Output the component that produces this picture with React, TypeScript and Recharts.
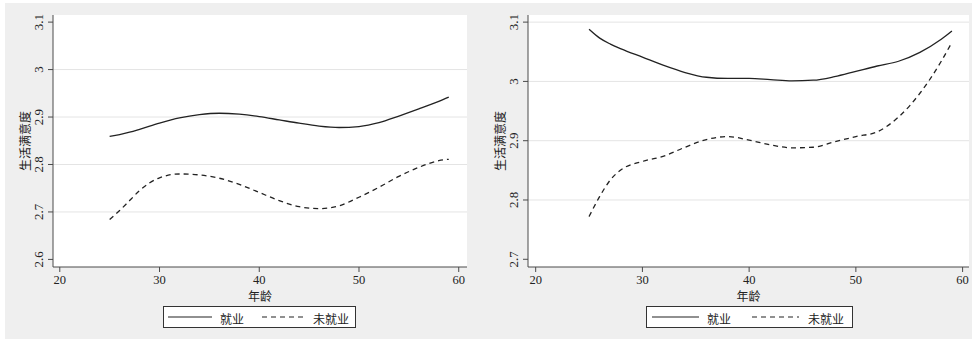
import React from 'react';
import { LineChart, Line, XAxis, YAxis, CartesianGrid, Legend } from 'recharts';

const ages = [25, 26, 27, 28, 30, 32, 34, 36, 38, 40, 42, 44, 46, 48, 50, 52, 54, 56, 58, 59];

const leftEmployed = [2.859, 2.863, 2.868, 2.874, 2.887, 2.898, 2.905, 2.908, 2.906, 2.901, 2.894, 2.887, 2.881, 2.878, 2.880, 2.888, 2.902, 2.917, 2.933, 2.942];
const leftUnemployed = [2.684, 2.703, 2.724, 2.745, 2.772, 2.780, 2.778, 2.771, 2.758, 2.741, 2.724, 2.711, 2.707, 2.713, 2.731, 2.752, 2.775, 2.794, 2.808, 2.811];

const rightEmployed = [3.088, 3.073, 3.063, 3.055, 3.041, 3.027, 3.015, 3.007, 3.005, 3.005, 3.003, 3.001, 3.002, 3.008, 3.017, 3.026, 3.034, 3.049, 3.071, 3.085];
const rightUnemployed = [2.772, 2.806, 2.834, 2.851, 2.865, 2.874, 2.889, 2.902, 2.907, 2.901, 2.893, 2.888, 2.889, 2.898, 2.907, 2.915, 2.940, 2.980, 3.034, 3.066];

const xTicks = [20, 30, 40, 50, 60];
const leftYTicks = [2.6, 2.7, 2.8, 2.9, 3.0, 3.1];
const rightYTicks = [2.7, 2.8, 2.9, 3.0, 3.1];
const leftGrid = [2.7, 2.8, 2.9, 3.0];
const rightGrid = [2.8, 2.9, 3.0, 3.1];

const seriesNames = ['就业', '未就业'];
const xTitle = '年龄';
const yTitle = '生活满意度';

const SERIF = '"Liberation Serif", "Times New Roman", serif';
const CJK = '"Noto Sans CJK SC", sans-serif';
const AXIS = '#4a4a4a';
const INK = '#222';

const leftData = ages.map((a, i) => ({ age: a, e: leftEmployed[i], u: leftUnemployed[i] }));
const rightData = ages.map((a, i) => ({ age: a, e: rightEmployed[i], u: rightUnemployed[i] }));

const fmt = (v: number) => String(Math.round(v * 10) / 10);

const YTick = (props: any) => {
  const { x, y, payload } = props;
  return (
    <text x={0} y={0} transform={`translate(${x - 3},${y}) rotate(-90)`} textAnchor="middle" fontSize={13} fontFamily={SERIF} fill={INK}>
      {fmt(payload.value)}
    </text>
  );
};

const XTitle = (props: any) => {
  const vb = props.viewBox;
  return (
    <text x={vb.x + vb.width / 2} y={vb.y + 34} textAnchor="middle" fontSize={12} fontFamily={CJK} fill={INK}>
      {xTitle}
    </text>
  );
};

const YTitle = (props: any) => {
  const vb = props.viewBox;
  const ax = vb.x + vb.width;
  const cy = vb.y + vb.height / 2;
  return (
    <text x={0} y={0} transform={`translate(${ax - 23},${cy}) rotate(-90)`} textAnchor="middle" fontSize={12} fontFamily={CJK} fill={INK}>
      {yTitle}
    </text>
  );
};

const makeLegend = (w: number, h: number, s: number[], t1: number, d: number[], t2: number) => () => (
  <svg width={w} height={h} style={{ display: 'block' }}>
    <rect x={0.5} y={0.5} width={w - 1} height={h - 1} fill="#fff" stroke="#333" strokeWidth={1} />
    <line x1={s[0]} x2={s[1]} y1={11} y2={11} stroke={INK} strokeWidth={1.2} />
    <text x={t1} y={17.5} fontSize={12} fontFamily={CJK} fill={INK}>{seriesNames[0]}</text>
    <line x1={d[0]} x2={d[1]} y1={11} y2={11} stroke={INK} strokeWidth={1.2} strokeDasharray="5 4" />
    <text x={t2} y={17.5} fontSize={12} fontFamily={CJK} fill={INK}>{seriesNames[1]}</text>
  </svg>
);

type PanelProps = {
  data: any[];
  left: number;
  yAxisWidth: number;
  marginRight: number;
  xDomain: [number, number];
  yDomain: [number, number];
  yTicks: number[];
  grid: number[];
  legendPos: { left: number; top: number; width: number; height: number };
  legendContent: () => React.ReactElement;
};

const Panel = (p: PanelProps) => (
  <div style={{ position: 'absolute', left: p.left, top: 0 }}>
    <LineChart width={488} height={341} data={p.data} margin={{ top: 15, right: p.marginRight, bottom: 34, left: 0 }}>
      <CartesianGrid horizontal vertical={false} horizontalValues={p.grid} fill="#ffffff" stroke="#e4e4e4" strokeWidth={1} />
      <XAxis
        dataKey="age"
        type="number"
        domain={p.xDomain}
        ticks={xTicks}
        allowDataOverflow
        height={40}
        tickSize={5}
        tickMargin={3}
        stroke={AXIS}
        tick={{ fontSize: 12.5, fontFamily: SERIF, fill: INK }}
        label={{ content: XTitle }}
      />
      <YAxis
        type="number"
        domain={p.yDomain}
        ticks={p.yTicks}
        allowDataOverflow
        width={p.yAxisWidth}
        tickSize={5}
        tickMargin={2}
        stroke={AXIS}
        tick={YTick}
        label={{ content: YTitle }}
      />
      <Line dataKey="e" type="monotone" stroke={INK} strokeWidth={1.3} dot={false} isAnimationActive={false} />
      <Line dataKey="u" type="monotone" stroke={INK} strokeWidth={1.3} strokeDasharray="5 4" dot={false} isAnimationActive={false} />
      <Legend
        layout="horizontal"
        verticalAlign="middle"
        align="center"
        content={p.legendContent}
        wrapperStyle={{ position: 'absolute', ...p.legendPos, margin: 0, padding: 0 }}
      />
    </LineChart>
  </div>
);

export default function App() {
  return (
    <div style={{ position: 'absolute', left: 0, top: 0, width: 976, height: 341, background: '#ffffff', overflow: 'hidden' }}>
      <div style={{ position: 'absolute', left: 5, top: 3, width: 967, height: 336, background: '#efefef' }} />
      <Panel
        data={leftData}
        left={0}
        yAxisWidth={53}
        marginRight={21}
        xDomain={[19.32, 60.83]}
        yDomain={[2.584, 3.115]}
        yTicks={leftYTicks}
        grid={leftGrid}
        legendPos={{ left: 163, top: 306, width: 193, height: 22 }}
        legendContent={makeLegend(193, 22, [5, 49], 57, [99, 142], 150)}
      />
      <Panel
        data={rightData}
        left={488}
        yAxisWidth={40}
        marginRight={7}
        xDomain={[19.28, 60.6]}
        yDomain={[2.687, 3.112]}
        yTicks={rightYTicks}
        grid={rightGrid}
        legendPos={{ left: 158, top: 306, width: 207, height: 22 }}
        legendContent={makeLegend(207, 22, [6, 53], 61, [106, 153], 162)}
      />
    </div>
  );
}
